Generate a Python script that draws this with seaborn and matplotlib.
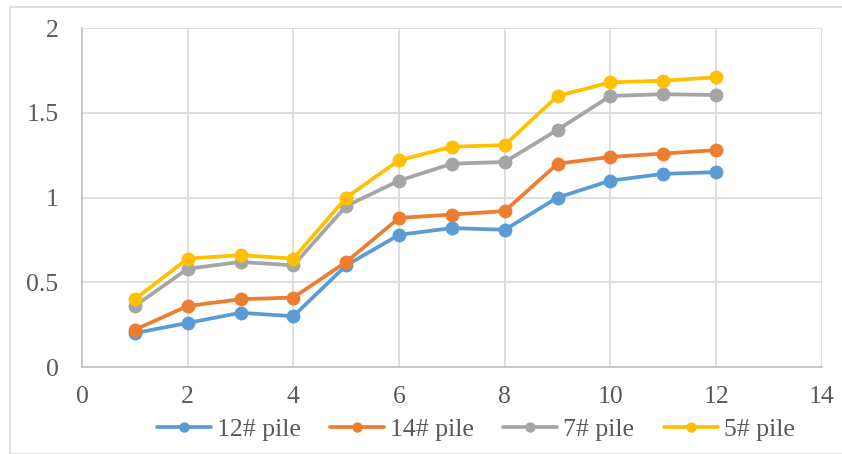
import numpy as np
import pandas as pd
import matplotlib.pyplot as plt
import seaborn as sns
from matplotlib.patches import Rectangle

# data
x = [1, 2, 3, 4, 5, 6, 7, 8, 9, 10, 11, 12]
pile12 = [0.20, 0.26, 0.32, 0.30, 0.60, 0.78, 0.82, 0.81, 1.00, 1.10, 1.14, 1.15]
pile14 = [0.22, 0.36, 0.40, 0.41, 0.62, 0.88, 0.90, 0.92, 1.20, 1.24, 1.26, 1.28]
pile7 = [0.36, 0.58, 0.62, 0.60, 0.95, 1.10, 1.20, 1.21, 1.40, 1.60, 1.61, 1.605]
pile5 = [0.40, 0.64, 0.66, 0.64, 1.00, 1.22, 1.30, 1.31, 1.60, 1.68, 1.69, 1.71]
names = ['12# pile', '14# pile', '7# pile', '5# pile']
colors = ['#5B9BD5', '#ED7D31', '#A5A5A5', '#FFC000']

df = pd.DataFrame({'x': x, names[0]: pile12, names[1]: pile14,
                   names[2]: pile7, names[3]: pile5})
df = df.melt(id_vars='x', var_name='pile', value_name='value')

sns.set_style('white')
plt.rcParams['font.family'] = ['Liberation Serif', 'DejaVu Serif']

fig = plt.figure(figsize=(8.42, 4.54), dpi=100)
ax = fig.add_axes([0.0974, 0.1916, 0.8786, 0.7464])

fig.patches.append(Rectangle((10/842, 0), 1.0, 1 - 7/454, transform=fig.transFigure,
                             fill=False, edgecolor='#d9d9d9', linewidth=1.2))

sns.lineplot(data=df, x='x', y='value', hue='pile', palette=colors, ax=ax,
             marker='o', markersize=10, markeredgewidth=0, linewidth=2.7,
             legend=False)

ax.set_xlim(0, 14)
ax.set_ylim(0, 2)
ax.set_xticks(np.arange(0, 15, 2))
ax.set_yticks([0, 0.5, 1, 1.5, 2])
ax.set_yticklabels(['0', '0.5', '1', '1.5', '2'])
ax.set_xlabel('')
ax.set_ylabel('')
ax.grid(True, color='#d9d9d9', linewidth=1.2)
ax.set_axisbelow(True)
for side in ['top', 'right']:
    ax.spines[side].set_visible(False)
for side in ['left', 'bottom']:
    ax.spines[side].set_color('#bfbfbf')
    ax.spines[side].set_linewidth(1.2)
ax.tick_params(axis='both', length=0, labelsize=18.5, colors='#595959')
ax.tick_params(axis='y', pad=17)
ax.tick_params(axis='x', pad=14)

handles = [plt.Line2D([], [], color=c, marker='o', markersize=7.5, markeredgewidth=0,
                      linewidth=2.7) for c in colors]
fig.legend(handles, names, loc='center', bbox_to_anchor=(0.565, 0.055), ncol=4,
           frameon=False, fontsize=18.5, handlelength=2.1, handletextpad=0.23,
           columnspacing=1.15, labelcolor='#595959')

fig.savefig('out.png', dpi=100)
